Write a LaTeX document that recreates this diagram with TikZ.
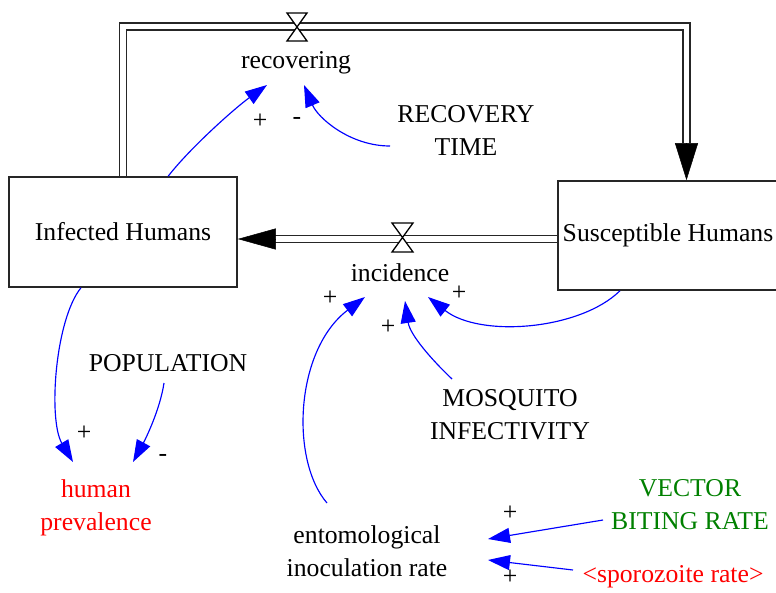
\documentclass[tikz,border=0pt]{standalone}
\usepackage{fontspec}
\setmainfont{Liberation Serif}
\usetikzlibrary{arrows.meta}
\definecolor{vgreen}{RGB}{0,128,0}
\begin{document}
\begin{tikzpicture}[x=1pt,y=-1pt,
  font=\fontsize{25.7}{33}\selectfont,
  stock/.style={draw=black!85, line width=1.6pt, minimum width=228pt, minimum height=110pt, inner sep=0pt},
  pipe/.style={draw=black!85, double=white, double distance=5.3pt, line width=1.7pt},
  pipehead/.style={draw=black, fill=black, line width=0.5pt, -{Triangle[length=37pt,width=23pt]}},
  valve/.style={draw=black, fill=white, line width=1.3pt, line join=miter},
  link/.style={blue, line width=1.15pt, -{Triangle[length=22pt,width=15pt]}},
  lbl/.style={align=center, inner sep=0pt},
  sign/.style={inner sep=0pt}]
\useasboundingbox (0,0) rectangle (776,592);

% stocks
\node[stock] (inf) at (123,232) {Infected Humans};
\node[stock, minimum width=220pt, minimum height=109pt] (sus) at (668,235.5) {Susceptible Humans};

% labels
\node[lbl] (rec) at (296,63) {recovering};
\node[lbl] (rtime) at (466,130) {RECOVERY\\TIME};
\node[lbl] (inc) at (400,273) {incidence};
\node[lbl] (pop) at (168,363) {POPULATION};
\node[lbl] (mosq) at (510,415) {MOSQUITO\\INFECTIVITY};
\node[lbl, text=red] (hp) at (96,508) {human\\prevalence};
\node[lbl] (eir) at (367,551) {entomological\\inoculation rate};
\node[lbl, text=vgreen] (vbr) at (690,505) {VECTOR\\BITING RATE};
\node[lbl, text=red] (spz) at (673,577) {<sporozoite rate>};

% pipes
\coordinate (topR) at (686.5,26.5);
\coordinate (topbase) at (686.5,143);
\draw[pipe] (inf.north) |- (topR) -- (topbase);
\draw[pipehead] (topbase) -- (topbase |- sus.north);
\coordinate (incbase) at (275,239);
\draw[pipe] (sus.west |- incbase) -- (incbase);
\draw[pipehead, -{Triangle[length=38pt,width=21pt]}] (incbase) -- (inf.east |- incbase);

% valves
\draw[valve] (287,13) -- (307,13) -- (287,41) -- (307,41) -- cycle;
\draw[valve] (392,223) -- (413,223) -- (392,252) -- (413,252) -- cycle;

% link end points
\coordinate (recP1) at (267,85);
\coordinate (recP2) at (304,85);
\coordinate (rtS) at (390,146);
\coordinate (incP1) at (428,297);
\coordinate (incP2) at (405,301);
\coordinate (incP3) at (365,297);
\coordinate (mosqS) at (452,379);
\coordinate (eirS) at (327,503);
\coordinate (popS) at (164,383);
\coordinate (hpP1) at (73,462);
\coordinate (hpP2) at (133,462);
\coordinate (vbrS) at (603,520);
\coordinate (eirP1) at (488,539);
\coordinate (spzS) at (573,570);
\coordinate (eirP2) at (488,560);

% links
\draw[link] (inf.51) .. controls (190,148) and (235,108) .. (recP1);
\draw[link] (rtS) .. controls (350,146) and (318,118) .. (recP2);
\draw[link] (sus.229) .. controls (580,330) and (480,338) .. (incP1);
\draw[link] (mosqS) .. controls (432,360) and (410,335) .. (incP2);
\draw[link] (eirS) .. controls (290,460) and (295,350) .. (incP3);
\draw[link] (inf.233) .. controls (55,320) and (48,420) .. (hpP1);
\draw[link] (popS) .. controls (160,410) and (145,440) .. (hpP2);
\draw[link] (vbrS) -- (eirP1);
\draw[link] (spzS) -- (eirP2);

% polarity signs
\node[sign] (s1) at (260,121) {+};
\node[sign] (s2) at (297,121) {-};
\node[sign] (s3) at (459,293) {+};
\node[sign] (s4) at (388,327) {+};
\node[sign] (s5) at (330,298) {+};
\node[sign] (s6) at (84,433) {+};
\node[sign] (s7) at (163,458) {-};
\node[sign] (s8) at (510,513) {+};
\node[sign] (s9) at (510,577) {+};
\end{tikzpicture}
\end{document}
